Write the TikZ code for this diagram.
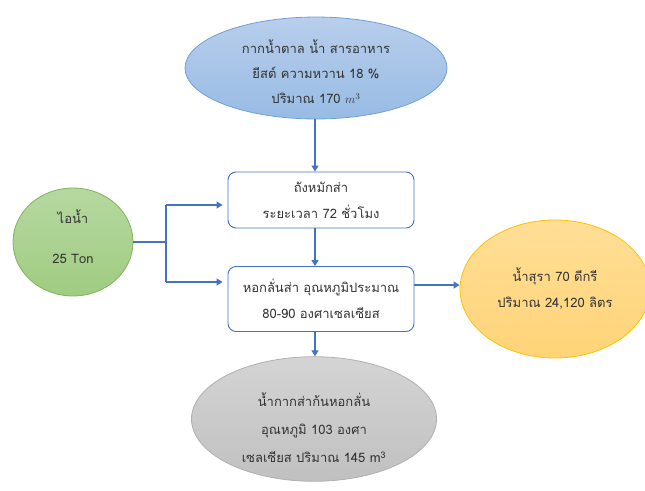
\documentclass[tikz,border=0pt]{standalone}
\usepackage{fontspec}
\setmainfont[Script=Thai]{Loma}
\usetikzlibrary{arrows.meta,shapes.geometric}
\definecolor{arrblue}{HTML}{4472C4}
\definecolor{txt}{HTML}{333333}
\definecolor{blueline}{HTML}{6FA0D8}
\definecolor{bluetop}{RGB}{184,206,236}
\definecolor{bluebot}{RGB}{152,187,228}
\definecolor{greenline}{HTML}{7FB35A}
\definecolor{greentop}{RGB}{182,216,160}
\definecolor{greenbot}{RGB}{160,204,130}
\definecolor{orangeline}{HTML}{FFC000}
\definecolor{orangetop}{RGB}{255,222,150}
\definecolor{orangebot}{RGB}{255,212,120}
\definecolor{grayline}{HTML}{B0B0B0}
\definecolor{graytop}{RGB}{212,212,212}
\definecolor{graybot}{RGB}{192,192,192}
\tikzset{
  every node/.style={text=txt, font=\fontsize{13}{26}\selectfont, align=center, inner sep=0pt},
  oval/.style={ellipse, line width=0.8pt},
  procbox/.style={rectangle, rounded corners=8pt, draw=arrblue, line width=0.9pt, fill=white, minimum width=186pt},
  arr/.style={draw=arrblue, line width=1.2pt, -{Triangle[length=6pt,width=7pt]}},
  conn/.style={draw=arrblue, line width=1.2pt}
}
\begin{document}
\begin{tikzpicture}[x=1pt,y=-1pt]
\useasboundingbox (0,0) rectangle (645,490);
% top ellipse
\node[oval, draw=blueline, top color=bluetop, bottom color=bluebot,
  minimum width=262pt, minimum height=97pt, font=\fontsize{13}{25}\selectfont] (top) at (316,68)
  {\rule{0pt}{22pt}กากน้ำตาล น้ำ สารอาหาร\\ยีสต์ ความหวาน 18 \%\\ปริมาณ 170 $m^{3}$};
% box 1
\node[procbox, minimum height=56pt] (b1) at (321,200) {ถังหมักส่า\\ระยะเวลา 72 ชั่วโมง};
% box 2
\node[procbox, minimum height=65pt] (b2) at (321,299) {หอกลั่นส่า อุณหภูมิประมาณ\\80-90 องศาเซลเซียส};
% green circle
\node[oval, draw=greenline, top color=greentop, bottom color=greenbot,
  minimum width=120pt, minimum height=108pt, font=\fontsize{13}{40}\selectfont] (g) at (73,242) {ไอน้ำ\\25 Ton\rule[-11pt]{0pt}{11pt}};
% orange ellipse
\node[oval, draw=orangeline, top color=orangetop, bottom color=orangebot,
  minimum width=190pt, minimum height=138pt] (o) at (555,289) {น้ำสุรา 70 ดีกรี\\ปริมาณ 24,120 ลิตร};
% gray ellipse
\node[oval, draw=grayline, top color=graytop, bottom color=graybot,
  minimum width=245pt, minimum height=122pt, font=\fontsize{13}{28}\selectfont] (gr) at (314,419)
  {\rule{0pt}{32pt}น้ำกากส่าก้นหอกลั่น\\อุณหภูมิ 103 องศา\\เซลเซียส ปริมาณ 145 m\textsuperscript{3}};
% vertical arrows
\coordinate (ax) at (315,0);
\draw[arr] (ax |- top.south) -- (ax |- b1.north);
\draw[arr] (ax |- b1.south) -- (ax |- b2.north);
\draw[arr] (ax |- b2.south) -- (ax |- gr.north);
% right arrow
\coordinate (ry) at (0,285);
\draw[arr] (ry -| b2.east) -- (ry -| o.west);
% steam split
\coordinate (j0) at (166,242);
\coordinate (j1) at (166,205);
\coordinate (j2) at (166,282);
\draw[conn] (g.east |- j0) -- (j0);
\draw[conn] (j1) -- (j2);
\draw[arr, shorten >=5pt] (j1) -- (j1 -| b1.west);
\draw[arr, shorten >=5pt] (j2) -- (j2 -| b2.west);
\end{tikzpicture}
\end{document}
